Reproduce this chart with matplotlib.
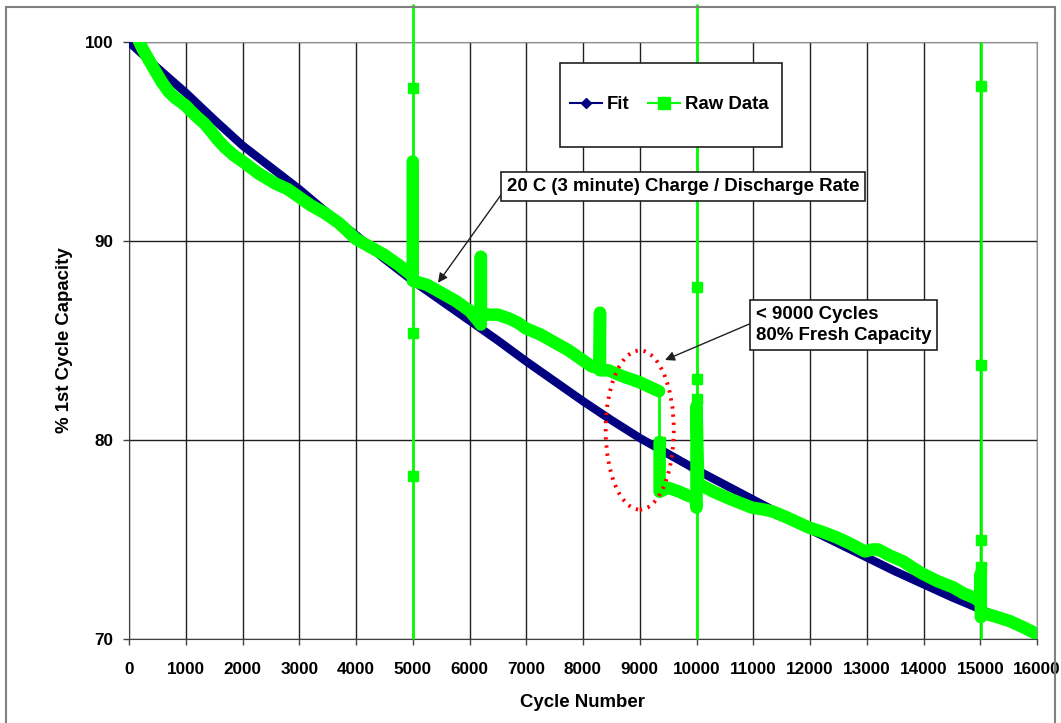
import matplotlib
matplotlib.use('Agg')
import numpy as np
import matplotlib.pyplot as plt
from matplotlib.lines import Line2D
from matplotlib.patches import Ellipse, Rectangle

plt.rcParams['font.family'] = ['Liberation Sans', 'DejaVu Sans']
plt.rcParams['font.weight'] = 'bold'

# ---------------- data ----------------
x_ticks = [0, 1000, 2000, 3000, 4000, 5000, 6000, 7000, 8000, 9000, 10000,
           11000, 12000, 13000, 14000, 15000, 16000]
y_ticks = [70, 80, 90, 100]

fit_cycles = [0, 500, 1000, 1500, 2000, 2500, 3000, 3500, 4000, 4500, 5000,
              5500, 6000, 6500, 7000, 7500, 8000, 8500, 9000, 9500, 10000,
              10500, 11000, 11500, 12000, 12500, 13000, 13500, 14000, 14500,
              15000, 15500, 16000]
fit_capacity = [100.0, 98.7, 97.45, 96.1, 94.8, 93.7, 92.6, 91.4, 90.3, 89.1,
                88.0, 87.0, 86.0, 85.0, 83.95, 82.95, 81.95, 81.0, 80.1, 79.3,
                78.5, 77.75, 77.0, 76.25, 75.5, 74.8, 74.1, 73.4, 72.75, 72.1,
                71.5, 70.9, 70.3]

# continuous raw-data band (nan = gap in the dense band)
raw_cycles = [150, 250, 350, 450, 575, 700, 810, 1000, 1100, 1210, 1330, 1450,
              1560, 1690, 1850, 2000, 2280, 2570, 2800, 3000, 3200, 3450, 3700,
              4000, 4250, 4500, 4750, 4970, 5000, 5000, np.nan,
              5000, 5250, 5500, 5750, 6000, 6150, 6200, 6200, 6200, 6300, 6500,
              6700, 6850, 7000, 7250, 7500, 7750, 8000, 8150, 8290, 8300, 8300,
              8450, 8700, 9000, 9150, 9340, np.nan,
              9350, 9350, 9500, 9700, 9850, 9980, 10000, 10000, 10030, 10100,
              10300, 10540, 10800, 10980, 11200, 11350, 11600, 11980, 12200,
              12475, 12700, 12970, 13100, 13200, 13400, 13640, 13800, 13970,
              14250, 14520, 14700, 14870, 14990, 15010, 15010, 15050, 15300,
              15520, 15750, 15965, 16000]
raw_capacity = [100.2, 99.6, 99.1, 98.6, 98.0, 97.5, 97.2, 96.8, 96.5, 96.2,
                95.9, 95.5, 95.1, 94.7, 94.3, 94.0, 93.4, 92.9, 92.6, 92.2,
                91.8, 91.4, 90.9, 90.1, 89.7, 89.3, 88.8, 88.3, 88.2, 94.0,
                np.nan,
                88.0, 87.8, 87.4, 87.0, 86.5, 86.0, 85.8, 89.2, 86.2, 86.3,
                86.3, 86.1, 85.9, 85.6, 85.3, 84.9, 84.5, 84.0, 83.7, 83.6,
                86.4, 83.5, 83.5, 83.2, 82.9, 82.7, 82.45, np.nan,
                79.9, 77.4, 77.6, 77.4, 77.2, 77.1, 76.6, 81.7, 77.8, 77.7,
                77.4, 77.1, 76.8, 76.6, 76.5, 76.4, 76.1, 75.6, 75.4, 75.1,
                74.8, 74.4, 74.5, 74.5, 74.2, 73.9, 73.6, 73.3, 72.9, 72.6,
                72.3, 72.1, 71.9, 73.3, 71.1, 71.3, 71.1, 70.9, 70.6, 70.3,
                70.2]

# isolated raw-data points (spikes)
outlier_cycles = [5000, 5000, 5000, 9350, 10000, 10000, 10000,
                  15010, 15010, 15010, 15010]
outlier_capacity = [97.7, 85.4, 78.2, 79.9, 87.7, 83.05, 82.05,
                    97.8, 83.75, 75.0, 73.6]

# thin vertical connections of the raw series
spike_cycles = [5000, 9345, 10000, 15010]
spike_low = [70.0, 77.4, 70.0, 70.0]
spike_high = [101.9, 82.45, 101.9, 100.0]

ellipse_center = (9000, 80.5)
ellipse_size = (1200, 8.0)

FS = 13.4
TFS = 12.3

# ---------------- figure ----------------
W, H = 1061, 723
fig = plt.figure(figsize=(W / 100, H / 100), dpi=100)
fig.patch.set_facecolor('white')
fig.patches.append(Rectangle((6 / W, -0.01), (1055 - 6) / W, 1 - 7 / H + 0.01,
                             transform=fig.transFigure, fill=False,
                             ec='#808080', lw=1.5))

ax = fig.add_axes([129 / W, 1 - 639 / H, (1037 - 129) / W, (639 - 42) / H])
ax.set_xlim(0, 16000)
ax.set_ylim(70, 100)
ax.set_xticks(x_ticks)
ax.set_yticks(y_ticks)
ax.set_xticklabels([str(t) for t in x_ticks])
ax.set_yticklabels([str(t) for t in y_ticks])
ax.grid(True, color='#202020', lw=1.0)
ax.set_axisbelow(True)
for s in ['top', 'right']:
    ax.spines[s].set_color('#909090')
for s in ['left', 'bottom']:
    ax.spines[s].set_color('#404040')
ax.tick_params(axis='both', direction='out', length=4, width=1,
               color='#404040', labelsize=TFS)
ax.tick_params(axis='x', pad=12.5)
ax.tick_params(axis='y', pad=7)

ax.set_xlabel('Cycle Number', fontsize=FS, fontweight='bold', labelpad=12)
ax.set_ylabel('% 1st Cycle Capacity', fontsize=FS, fontweight='bold',
              labelpad=9)

navy = '#000080'
lime = '#00FF00'

# fit
ax.plot(fit_cycles, fit_capacity, color=navy, lw=6, zorder=3,
        solid_capstyle='butt')

# raw thin connections
ax.vlines(spike_cycles, spike_low, spike_high, color=lime, lw=2, zorder=4,
          clip_on=False)
# raw dense band
ax.plot(raw_cycles, raw_capacity, color=lime, lw=9, zorder=4,
        solid_joinstyle='round', solid_capstyle='round')
# isolated raw points
ax.plot(outlier_cycles, outlier_capacity, ls='none', marker='s', ms=7.5,
        color=lime, zorder=4)

# ellipse
ax.add_patch(Ellipse(ellipse_center, ellipse_size[0], ellipse_size[1],
                     fill=False, ec='#FF0000', lw=2.8,
                     ls=(0, (0.6, 1.5)), zorder=5))

# annotations
box = dict(boxstyle='square,pad=0.3', fc='white', ec='#202020', lw=1.2)
ax.annotate('20 C (3 minute) Charge / Discharge Rate', xy=(5445, 87.9),
            xytext=(6661, 92.74), ha='left', va='center', fontsize=FS,
            fontweight='bold', bbox=box, zorder=6,
            arrowprops=dict(arrowstyle='-|>', color='#202020', lw=1,
                            relpos=(0, 0.5), shrinkA=0, shrinkB=0,
                            mutation_scale=14))
ax.annotate('< 9000 Cycles\n80% Fresh Capacity', xy=(9445, 84.02),
            xytext=(11049, 85.78), ha='left', va='center', fontsize=FS,
            fontweight='bold', bbox=box, zorder=6, linespacing=1.32,
            arrowprops=dict(arrowstyle='-|>', color='#202020', lw=1,
                            relpos=(0, 0.6), shrinkA=0, shrinkB=0,
                            mutation_scale=14))

# legend
ax.add_patch(Rectangle((0.4747, 0.824), 0.2443, 0.1406, transform=ax.transAxes,
                       fc='white', ec='#202020', lw=1.2, zorder=7))
handles = [Line2D([], [], color=navy, lw=1.5, marker='D', ms=5),
           Line2D([], [], color=lime, lw=1.5, marker='s', ms=8)]
leg = ax.legend(handles, ['Fit', 'Raw Data'], loc='center',
                bbox_to_anchor=(0.5947, 0.8945), ncol=2, frameon=False,
                handlelength=1.72, handletextpad=0.27,
                columnspacing=0.97, prop={'weight': 'bold', 'size': FS})
leg.set_zorder(8)

fig.savefig('out.png', dpi=100)
